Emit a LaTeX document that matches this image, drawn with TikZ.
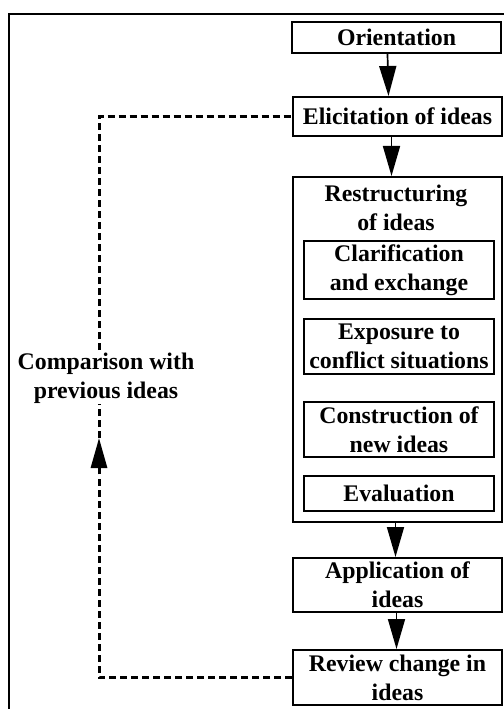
\documentclass[tikz,border=0pt]{standalone}
\usepackage{fontspec}
\setmainfont{Liberation Serif}
\usetikzlibrary{arrows.meta}

\tikzset{
  lbl/.style={font=\fontsize{23.8bp}{29bp}\selectfont\bfseries, align=center, inner sep=0pt},
  stagebox/.style={lbl, draw, line width=2bp, fill=white, minimum width=209bp},
  subbox/.style={lbl, draw, line width=2bp, fill=white, minimum width=190bp},
  flow/.style={line width=1.7bp, -{Triangle[length=30bp, width=17bp]}},
  feedback/.style={line width=3bp, dash pattern=on 7bp off 4bp},
  frame/.style={line width=2bp}
}

\begin{document}
\begin{tikzpicture}[x=1bp, y=-1bp]
  \useasboundingbox (0,0) rectangle (504,709);

  % surrounding frame
  \draw[frame] (9,709) -- (9,14) -- (504,14);

  % main sequence of stages
  \node[stagebox, minimum height=31bp] (orient) at (396.5,37.5) {Orientation};
  \node[stagebox, minimum height=39bp] (elicit) at (397.5,116.5) {Elicitation of ideas};
  \node[draw, line width=2bp, minimum width=209bp, minimum height=345bp, inner sep=0pt] (restruct) at (397.5,349.5) {};
  \node[lbl] (restitle) at (396,208) {Restructuring\\of ideas};
  \node[subbox, minimum height=58bp] (clarify) at (399,270) {Clarification\\and exchange};
  \node[subbox, minimum height=55bp] (expose) at (399,346.5) {Exposure to\\conflict situations};
  \node[subbox, minimum height=55bp] (construct) at (399,429.5) {Construction of\\new ideas};
  \node[subbox, minimum height=35bp] (evaluate) at (399,493.5) {Evaluation};
  \node[stagebox, minimum height=54bp] (apply) at (397.5,585) {Application of\\ideas};
  \node[stagebox, minimum height=55bp] (review) at (397.5,677.5) {Review change in\\ideas};

  % forward arrows
  \draw[flow] ([xshift=-9bp]orient.south) -- ([xshift=-9bp]elicit.north);
  \draw[flow] ([xshift=-6bp]elicit.south) -- ([xshift=-6bp]restruct.north);
  \draw[flow] ([xshift=-2bp]restruct.south) -- ([xshift=-2bp]apply.north);
  \draw[flow] ([xshift=-1bp]apply.south) -- ([xshift=-1bp]review.north);

  % feedback loop back to elicitation
  \coordinate (cbot) at (99,677.5);
  \coordinate (ctip) at (99,438);
  \coordinate (ctop) at (99,116.5);
  \draw[feedback, -{Triangle[length=30bp, width=16bp]}] (review.west) -- (cbot) -- (ctip);
  \draw[feedback] (ctip) -- (ctop) -- (elicit.west);
  \node[lbl, fill=white, inner sep=1bp] (compare) at (106,378) {Comparison with\\previous ideas};
\end{tikzpicture}
\end{document}
